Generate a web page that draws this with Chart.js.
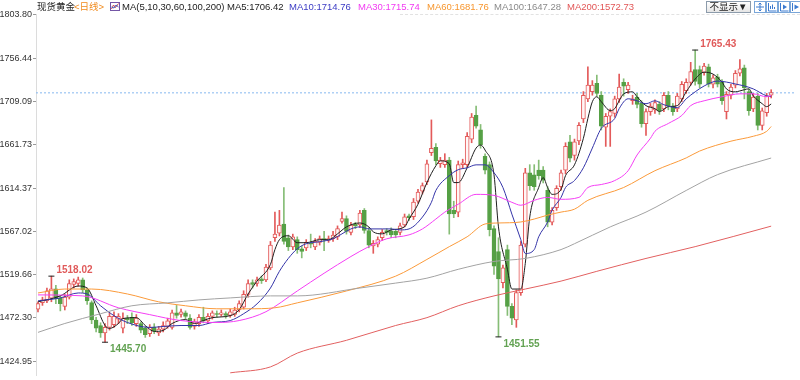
<!DOCTYPE html>
<html lang="zh">
<head>
<meta charset="UTF-8">
<title>现货黄金 日线</title>
<script src="https://cdn.jsdelivr.net/npm/chart.js"></script>
<style>
    body { margin: 0; background: #fff; font-family: "Liberation Sans", Arial, "Noto Sans CJK SC", sans-serif; }
    .wrap { position: relative; width: 800px; height: 380px; overflow: hidden; }
    #kline { position: absolute; left: 0; top: 0; }
    .hd { position: absolute; top: 0; font-size: 9.5px; line-height: 13px; white-space: nowrap; color: #222; }
    .sep { position: absolute; left: 400px; top: 14px; width: 400px; border-top: 1px dashed #e2e2e2; }
    .btn { position: absolute; top: 1px; height: 10px; border: 1px solid #8c9bab; background: linear-gradient(#fff, #e6e6e6); }
    .btn.txt { left: 706px; width: 43px; font-size: 9.5px; line-height: 10px; text-align: center; color: #222; }
    .btn.ico { width: 10px; border-color: #7aa6d8; background: #fff; }
    .btn.ico svg { display: block; }
</style>
</head>
<body>
<div class="wrap">
    <canvas id="kline" width="800" height="380"></canvas>
    <div class="sep"></div>
    <span class="hd" style="left:37px">现货黄金</span>
    <span class="hd" style="left:74px;color:#f0891a">&lt;日线&gt;</span>
    <svg class="hd" style="left:110px;top:2px" width="10" height="9" viewBox="0 0 10 9">
        <rect x="0.5" y="0.5" width="9" height="8" fill="#fff" stroke="#7456a6"/>
        <polyline points="1.5,7 3.5,3 5.5,5.5 8.5,1.5" fill="none" stroke="#d04848" stroke-width="1"/>
        <polyline points="1.5,5 4,6 6,3 8.5,5" fill="none" stroke="#4060c0" stroke-width="1"/>
    </svg>
    <span class="hd" style="left:122px">MA(5,10,30,60,100,200)</span>
    <span class="hd" style="left:227px">MA5:1706.42</span>
    <span class="hd" style="left:289px;color:#3b3bc4">MA10:1714.76</span>
    <span class="hd" style="left:358px;color:#f23af2">MA30:1715.74</span>
    <span class="hd" style="left:427px;color:#f7962e">MA60:1681.76</span>
    <span class="hd" style="left:494px;color:#8a8a8a">MA100:1647.28</span>
    <span class="hd" style="left:567px;color:#e25656">MA200:1572.73</span>
    <div class="btn txt">不显示▼</div>
    <div class="btn ico" style="left:754px">
        <svg width="10" height="10" viewBox="0 0 10 10"><path d="M5 1v8M1 5h8M5 1l-1.5 1.5M5 1l1.5 1.5M5 9l-1.5-1.5M5 9l1.5-1.5" stroke="#3b7ad0" fill="none"/></svg>
    </div>
    <div class="btn ico" style="left:766px">
        <svg width="10" height="10" viewBox="0 0 10 10"><path d="M1.5 1v8h8M3.5 7V4M5.5 7V2.5M7.5 7V5" stroke="#3b7ad0" fill="none"/></svg>
    </div>
    <div class="btn ico" style="left:778px">
        <svg width="10" height="10" viewBox="0 0 10 10"><path d="M1.5 1v8h8" stroke="#3b7ad0" fill="none"/><path d="M4 2.5l4 2.5-4 2.5z" fill="#3b7ad0"/></svg>
    </div>
    <div class="btn ico" style="left:790px">
        <svg width="10" height="10" viewBox="0 0 10 10"><path d="M1.5 1v8" stroke="#3b7ad0" fill="none"/><path d="M3.5 2.5l4.5 2.5-4.5 2.5z" fill="#3b7ad0"/></svg>
    </div>
</div>

<script>
    // daily candles, one per trading day, left to right
    const candleOpen = [
        1482, 1489, 1491, 1494, 1504, 1494, 1485, 1495, 1509, 1510, 1514, 1503, 1489, 1470, 1464, 1456, 1462, 1465, 1471, 1461,
        1472, 1473, 1466, 1466, 1461, 1455, 1462, 1456, 1460, 1463, 1462, 1478, 1476, 1478, 1472, 1463, 1466, 1473, 1469, 1474,
        1477, 1476, 1477, 1475, 1476, 1481, 1484, 1498, 1511, 1510, 1515, 1514, 1527, 1560, 1565, 1575, 1560, 1550, 1558, 1548,
        1549, 1554, 1550, 1555, 1559, 1557, 1559, 1561, 1578, 1581, 1566, 1575, 1574, 1590, 1568, 1551, 1553, 1560, 1568, 1567,
        1567, 1566, 1574, 1584, 1583, 1600, 1611, 1621, 1653, 1659, 1641, 1640, 1645, 1590, 1588, 1640, 1640, 1668, 1694, 1678,
        1649, 1640, 1570, 1545, 1511, 1547, 1485, 1470, 1500, 1553, 1631, 1629, 1634, 1634, 1612, 1577, 1593, 1616, 1634, 1665,
        1650, 1666, 1690, 1712, 1720, 1729, 1716, 1681, 1693, 1696, 1712, 1730, 1722, 1710, 1714, 1707, 1685, 1698, 1700, 1706,
        1701, 1716, 1704, 1701, 1712, 1721, 1730, 1744, 1744, 1741, 1747, 1728, 1736, 1730, 1698, 1716, 1727, 1740, 1746, 1720,
        1701, 1715, 1683, 1697, 1716
    ];
    const candleHigh = [
        1490, 1495, 1505, 1518.02, 1508, 1497, 1498, 1514, 1515, 1517, 1516, 1505, 1491, 1473, 1467, 1466, 1478, 1479, 1477, 1478,
        1475, 1478, 1476, 1468, 1463, 1465, 1466, 1463, 1468, 1472, 1481, 1486, 1482, 1480, 1476, 1471, 1476, 1484, 1477, 1480,
        1480, 1481, 1479, 1482, 1484, 1491, 1502, 1514, 1514, 1517, 1518, 1531, 1556, 1588, 1590, 1615, 1563, 1564, 1561, 1551,
        1558, 1564, 1559, 1562, 1567, 1562, 1567, 1573, 1588, 1584, 1577, 1577, 1590, 1592, 1571, 1557, 1561, 1569, 1570, 1571,
        1569, 1576, 1586, 1586, 1603, 1613, 1620, 1645, 1689, 1663, 1648, 1652, 1648, 1600, 1644, 1646, 1675, 1696, 1704, 1684,
        1652, 1643, 1573, 1560, 1530, 1552, 1488, 1503, 1556, 1636, 1640, 1640, 1645, 1638, 1616, 1593, 1617, 1634, 1664, 1672,
        1668, 1686, 1720, 1747, 1732, 1738, 1720, 1696, 1701, 1715, 1739, 1734, 1730, 1716, 1718, 1710, 1701, 1707, 1711, 1709,
        1719, 1720, 1707, 1718, 1731, 1734, 1752, 1765.43, 1748, 1751, 1750, 1738, 1739, 1733, 1720, 1728, 1743, 1755, 1749, 1723,
        1718, 1718, 1702, 1718, 1722
    ];
    const candleLow = [
        1479, 1486, 1489, 1490, 1488, 1480, 1481, 1493, 1505, 1507, 1500, 1487, 1466, 1457, 1451, 1445.70, 1459, 1462, 1466, 1456,
        1466, 1464, 1463, 1456, 1451, 1452, 1455, 1453, 1457, 1461, 1460, 1472, 1473, 1471, 1460, 1460, 1463, 1467, 1466, 1471,
        1473, 1474, 1472, 1473, 1474, 1479, 1482, 1495, 1505, 1507, 1510, 1512, 1525, 1556, 1562, 1553, 1546, 1547, 1543, 1538,
        1546, 1549, 1547, 1552, 1546, 1555, 1556, 1558, 1576, 1564, 1563, 1570, 1571, 1565, 1549, 1543, 1550, 1557, 1563, 1560,
        1560, 1563, 1572, 1579, 1580, 1598, 1608, 1618, 1650, 1640, 1637, 1637, 1564, 1582, 1583, 1636, 1637, 1664, 1680, 1658,
        1630, 1562, 1520, 1451.55, 1505, 1475, 1465, 1462, 1497, 1550, 1612, 1612, 1624, 1620, 1572, 1574, 1590, 1612, 1630, 1643,
        1645, 1662, 1686, 1709, 1716, 1715, 1678, 1660, 1660, 1692, 1708, 1715, 1718, 1706, 1702, 1681, 1672, 1694, 1696, 1695,
        1698, 1700, 1694, 1698, 1709, 1718, 1727, 1727, 1724, 1738, 1725, 1724, 1725, 1706, 1690, 1712, 1724, 1737, 1712, 1694,
        1698, 1678, 1678, 1693, 1713
    ];
    const candleClose = [
        1488, 1492, 1502, 1504, 1493, 1488, 1495, 1510, 1512, 1514, 1503, 1491, 1470, 1461, 1456, 1462, 1474, 1474, 1474, 1472,
        1470, 1467, 1472, 1459, 1454, 1462, 1458, 1460, 1464, 1469, 1478, 1475, 1479, 1474, 1462, 1468, 1473, 1469, 1474, 1478,
        1476, 1478, 1475, 1479, 1481, 1488, 1498, 1510, 1509, 1514, 1513, 1528, 1552, 1564, 1574, 1556, 1550, 1561, 1547, 1545,
        1555, 1553, 1556, 1559, 1558, 1559, 1563, 1570, 1581, 1567, 1574, 1573, 1587, 1568, 1552, 1554, 1558, 1566, 1566, 1563,
        1563, 1573, 1583, 1582, 1599, 1610, 1617, 1641, 1658, 1644, 1645, 1645, 1586, 1586, 1640, 1642, 1671, 1692, 1682, 1662,
        1634, 1569, 1529, 1515, 1527, 1485, 1472, 1500, 1552, 1631, 1617, 1616, 1628, 1623, 1577, 1590, 1614, 1631, 1660, 1647,
        1665, 1683, 1716, 1727, 1727, 1718, 1682, 1693, 1698, 1712, 1725, 1726, 1727, 1712, 1706, 1685, 1698, 1704, 1708, 1699,
        1716, 1704, 1698, 1715, 1728, 1730, 1742, 1731, 1728, 1748, 1728, 1735, 1728, 1710, 1717, 1725, 1740, 1745, 1724, 1699,
        1714, 1683, 1699, 1715, 1719
    ];

    // moving averages at the candle index given
    const ma5Idx = [0, 5, 9, 11, 13, 15, 16, 18, 19, 22, 24, 26, 28, 30, 33, 35, 37, 39, 43, 45, 47, 49, 52, 53, 54, 56, 58, 60, 63, 65, 67, 69, 72, 74, 75, 77, 79, 82, 83, 85, 87, 89, 90, 92, 93, 94, 96, 98, 99, 100, 102, 103, 105, 106, 108, 109, 110, 112, 113, 114, 115, 117, 118, 120, 122, 123, 124, 125, 126, 128, 129, 130, 131, 133, 134, 136, 138, 139, 141, 143, 145, 147, 149, 151, 153, 154, 156, 157, 159, 160, 162, 163, 164];
    const ma5Val = [1489.9, 1496.4, 1507.2, 1505.0, 1485.6, 1464.0, 1460.8, 1466.2, 1471.6, 1472.6, 1464.0, 1457.5, 1458.6, 1466.2, 1470.5, 1466.2, 1469.4, 1472.6, 1474.8, 1481.3, 1498.5, 1512.6, 1530.9, 1547.1, 1557.9, 1562.2, 1554.6, 1554.6, 1557.9, 1557.9, 1564.3, 1571.9, 1576.2, 1571.9, 1566.5, 1564.3, 1568.6, 1571.9, 1580.5, 1596.7, 1620.4, 1638.8, 1644.2, 1640.9, 1620.4, 1620.4, 1636.6, 1658.2, 1661.4, 1656.0, 1629.1, 1571.9, 1525.5, 1503.9, 1503.9, 1532.0, 1582.7, 1615.0, 1625.8, 1615.0, 1607.5, 1612.9, 1628.0, 1639.8, 1668.9, 1690.5, 1708.9, 1714.3, 1708.9, 1699.2, 1701.3, 1709.9, 1717.5, 1719.7, 1714.3, 1704.6, 1701.3, 1698.1, 1703.5, 1704.6, 1719.7, 1733.7, 1741.2, 1739.1, 1730.4, 1722.9, 1719.7, 1720.7, 1722.9, 1715.3, 1706.7, 1703.5, 1706.42];

    const ma10Idx = [0, 5, 9, 11, 14, 17, 20, 25, 28, 32, 36, 39, 43, 46, 49, 52, 54, 56, 58, 60, 63, 66, 68, 70, 72, 74, 77, 79, 81, 83, 86, 88, 89, 92, 94, 96, 98, 100, 102, 104, 106, 108, 109, 111, 112, 114, 115, 117, 118, 120, 122, 124, 126, 129, 130, 132, 134, 136, 138, 140, 143, 145, 147, 149, 152, 154, 156, 158, 160, 163, 164];
    const ma10Val = [1491.0, 1494.2, 1499.6, 1498.5, 1485.6, 1474.8, 1467.3, 1461.9, 1462.9, 1464.0, 1464.0, 1467.3, 1469.4, 1476.9, 1487.7, 1505.0, 1523.3, 1537.4, 1548.0, 1553.5, 1555.7, 1558.9, 1564.3, 1569.7, 1571.9, 1569.7, 1569.7, 1569.7, 1568.6, 1569.7, 1582.7, 1598.8, 1611.8, 1628.0, 1634.5, 1636.6, 1639.8, 1639.8, 1631.2, 1615.0, 1585.9, 1557.9, 1542.8, 1547.1, 1561.1, 1577.3, 1590.2, 1604.2, 1615.0, 1622.6, 1636.6, 1658.2, 1679.7, 1690.5, 1701.3, 1712.1, 1709.9, 1706.7, 1709.9, 1705.6, 1702.4, 1712.1, 1719.7, 1726.1, 1731.5, 1730.4, 1728.3, 1726.1, 1722.9, 1715.3, 1714.76];

    const ma30Idx = [0, 10, 18, 25, 32, 40, 45, 51, 58, 64, 70, 74, 78, 83, 86, 89, 91, 94, 98, 102, 106, 108, 111, 114, 117, 121, 123, 126, 129, 132, 134, 137, 138, 141, 144, 146, 149, 153, 157, 160, 163, 164];
    const ma30Val = [1497.5, 1496.4, 1483.4, 1475.9, 1469.4, 1467.3, 1469.4, 1479.1, 1501.8, 1521.2, 1539.5, 1550.3, 1558.9, 1563.2, 1569.7, 1580.5, 1588.1, 1596.7, 1607.5, 1606.4, 1598.8, 1595.6, 1601.0, 1604.2, 1602.1, 1604.2, 1615.0, 1618.3, 1622.6, 1633.4, 1650.6, 1668.9, 1676.5, 1685.1, 1693.8, 1704.6, 1709.9, 1714.3, 1717.5, 1717.5, 1714.3, 1715.74];

    const ma60Idx = [0, 6, 12, 20, 27, 33, 40, 47, 53, 58, 69, 80, 87, 92, 96, 100, 103, 108, 111, 114, 117, 120, 123, 131, 138, 145, 148, 155, 160, 163, 164];
    const ma60Val = [1499.6, 1503.9, 1503.9, 1498.5, 1489.9, 1485.6, 1482.3, 1482.3, 1483.4, 1488.8, 1501.8, 1518.0, 1536.3, 1550.3, 1561.1, 1575.1, 1576.2, 1577.3, 1580.5, 1584.8, 1588.1, 1591.3, 1601.0, 1615.0, 1633.4, 1647.4, 1654.9, 1665.7, 1671.1, 1676.5, 1681.76];

    const ma100Idx = [0, 6, 14, 21, 29, 36, 43, 52, 58, 72, 80, 87, 94, 102, 109, 117, 120, 128, 136, 145, 152, 164];
    const ma100Val = [1456.5, 1466.2, 1476.9, 1485.6, 1488.8, 1492.0, 1494.2, 1496.4, 1496.4, 1505.0, 1510.4, 1515.8, 1525.5, 1534.1, 1537.4, 1547.1, 1553.5, 1571.9, 1588.1, 1611.8, 1629.1, 1647.28];

    const ma200Idx = [43, 52, 58, 69, 80, 87, 94, 102, 109, 117, 125, 136, 147, 164];
    const ma200Val = [1412.2, 1418.7, 1433.8, 1447.8, 1464.0, 1472.6, 1485.6, 1496.4, 1503.9, 1512.6, 1523.3, 1537.4, 1550.3, 1572.73];

    const lastPrice = 1718.6;

    const yTickVals = [1803.80, 1756.44, 1709.09, 1661.73, 1614.37, 1567.02, 1519.66, 1472.30, 1424.95];
    const yTickLabels = ['1803.80', '1756.44', '1709.09', '1661.73', '1614.37', '1567.02', '1519.66', '1472.30', '1424.95'];

    // marked highs and lows
    const extremeIdx = [3, 15, 103, 147];
    const extremeVal = [1518.02, 1445.70, 1451.55, 1765.43];
    const extremeIsHigh = [true, false, false, true];

    const RED = '#e35a5a', GREEN = '#55a045', GREEN_WICK = '#86bd76';
    const X_MIN = -0.444, X_MAX = 169.33;

    const days = candleOpen.map((_, i) => i);
    const isUp = days.map(i => candleClose[i] >= candleOpen[i]);
    const wickData = days.map(i => ({ x: i, y: [candleLow[i], candleHigh[i]] }));
    const bodyData = days.map(i => ({ x: i, y: [Math.min(candleOpen[i], candleClose[i]), Math.max(candleOpen[i], candleClose[i])] }));
    const pts = (idx, val) => idx.map((x, k) => ({ x, y: val[k] }));

    function maLine(idx, val, color) {
        return {
            type: 'line', data: pts(idx, val), borderColor: color, borderWidth: 1,
            pointRadius: 0, cubicInterpolationMode: 'monotone', order: 0
        };
    }

    const extremeText = {
        id: 'extremeText',
        afterDatasetsDraw(chart) {
            const { ctx, scales: { x, y } } = chart;
            ctx.save();
            ctx.font = 'bold 10px "Liberation Sans", Arial, sans-serif';
            ctx.textBaseline = 'middle';
            extremeIdx.forEach((idx, k) => {
                const px = x.getPixelForValue(idx);
                const py = y.getPixelForValue(extremeVal[k]);
                ctx.fillStyle = extremeIsHigh[k] ? '#e05a5a' : '#62a252';
                ctx.fillText(extremeVal[k].toFixed(2), px + 5, extremeIsHigh[k] ? py - 6 : py + 7);
            });
            ctx.restore();
        }
    };

    new Chart(document.getElementById('kline'), {
        type: 'bar',
        data: {
            datasets: [
                maLine(ma200Idx, ma200Val, '#e26060'),
                maLine(ma100Idx, ma100Val, '#a3a3a3'),
                maLine(ma60Idx, ma60Val, '#fb9a3a'),
                maLine(ma30Idx, ma30Val, '#f53ef5'),
                maLine(ma10Idx, ma10Val, '#3434a8'),
                maLine(ma5Idx, ma5Val, '#1e1e1e'),
                {
                    type: 'line', data: [{ x: X_MIN, y: lastPrice }, { x: X_MAX, y: lastPrice }],
                    borderColor: '#86b8ef', borderWidth: 1, borderDash: [2, 2], pointRadius: 0, order: 3
                },
                {
                    type: 'line', data: pts(extremeIdx, extremeVal), showLine: false,
                    pointStyle: 'line', pointRadius: 3, borderColor: '#222', borderWidth: 1, order: 0
                },
                {
                    data: bodyData, grouped: false, barThickness: 4, minBarLength: 1,
                    backgroundColor: days.map(i => isUp[i] ? '#fff6f6' : GREEN),
                    borderColor: days.map(i => isUp[i] ? RED : GREEN),
                    borderWidth: 1, borderSkipped: false, order: 1
                },
                {
                    data: wickData, grouped: false, barThickness: 1,
                    backgroundColor: days.map(i => isUp[i] ? RED : GREEN_WICK),
                    borderWidth: 0, order: 2
                }
            ]
        },
        options: {
            responsive: false,
            animation: false,
            devicePixelRatio: 1,
            events: [],
            layout: { padding: { top: 14, left: 0, right: 0, bottom: 0 } },
            plugins: { legend: { display: false }, tooltip: { enabled: false } },
            scales: {
                x: { type: 'linear', display: false, min: X_MIN, max: X_MAX, offset: false },
                y: {
                    position: 'left', min: 1409.84, max: 1804.88, beginAtZero: false,
                    afterBuildTicks: s => { s.ticks = yTickVals.map(v => ({ value: v })); },
                    afterFit: s => { s.width = 36; s.paddingTop = 0; s.paddingBottom = 0; },
                    ticks: {
                        padding: 1, color: '#333',
                        font: { family: '"Liberation Sans", Arial, sans-serif', size: 9 },
                        callback: (v, i) => yTickLabels[i]
                    },
                    grid: { drawOnChartArea: false, tickLength: 3, color: '#999' },
                    border: { display: true, color: '#dcdcdc' }
                }
            }
        },
        plugins: [extremeText]
    });
</script>
</body>
</html>
